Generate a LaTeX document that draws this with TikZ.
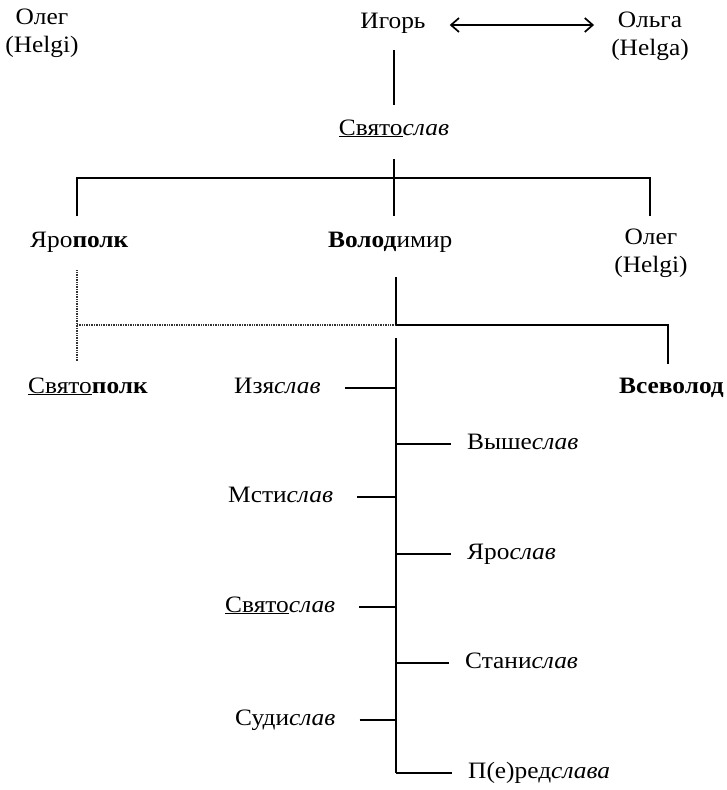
\documentclass[tikz,border=0pt]{standalone}
\usepackage{fontspec}
\setmainfont[FakeStretch=1.08]{Liberation Serif}
\usepackage{tikz}
\usetikzlibrary{arrows.meta}

\tikzset{
	person/.style={font=\fontsize{23.5}{28}\selectfont, inner sep=0pt},
	kin/.style={line width=1.9pt},
	trunkline/.style={line width=1.4pt},
	dotline/.style={line width=1.4pt, black!80, dash pattern=on 1pt off 0.7pt},
	wed/.style={line width=1.7pt, {Straight Barb[length=8pt,width=14pt]}-{Straight Barb[length=8pt,width=14pt]}}
}

\begin{document}
\begin{tikzpicture}[x=1pt, y=-1pt, every node/.style={person}]
\useasboundingbox (0,0) rectangle (726,790);

% parents and first son
\node[anchor=north, align=center] (olegA) at (42,9) {Олег\\(Helgi)};
\node[anchor=base] (igor) at (393,28) {Игорь};
\node[anchor=north, align=center] (olga) at (650,12) {Ольга\\(Helga)};
\node[anchor=base] (svyatA) at (394,135) {\underline{Свято}\textit{слав}};

\draw[wed, shorten <=24pt, shorten >=17pt] (igor.east |- 0,25) -- (olga.west |- 0,25);
\draw[kin, shorten <=17pt, shorten >=14pt] (igor.south -| svyatA) -- (svyatA);

% sons of Svyatoslav
\node[anchor=base west] (yaropolk) at (30,247) {Яро\textbf{полк}};
\node[anchor=base west] (volod) at (328,247) {\textbf{Волод}имир};
\node[anchor=north, align=center] (olegB) at (651,229) {Олег\\(Helgi)};

\coordinate (barL) at (77,178);
\coordinate (barR) at (650,178);
\draw[kin, shorten <=15pt, shorten >=13pt] (barL |- yaropolk.north) -- (barL) -- (barR) -- (barR |- olegB.north);
\draw[kin, shorten <=22pt, shorten >=15pt] (svyatA.south) -- (svyatA.south |- volod.north);

% grandsons
\node[anchor=base west] (svyatopolk) at (28,393) {\underline{Свято}\textbf{полк}};
\node[anchor=base east] (vsevolod) at (724,393) {\textbf{Всеволод}};
\node[anchor=base west] (izyaslav) at (234,393) {Изя\textit{слав}};
\node[anchor=base west] (vysheslav) at (467,449) {Выше\textit{слав}};
\node[anchor=base west] (mstislav) at (228,502) {Мсти\textit{слав}};
\node[anchor=base west] (yaroslav) at (467,559) {Яро\textit{слав}};
\node[anchor=base west] (svyatB) at (225,612) {\underline{Свято}\textit{слав}};
\node[anchor=base west] (stanislav) at (465,668) {Стани\textit{слав}};
\node[anchor=base west] (sudislav) at (235,725) {Суди\textit{слав}};
\node[anchor=base west] (predslava) at (468,778) {П(е)ред\textit{слава}};

\coordinate (forkB) at (396,325);
\coordinate (legV) at (668,325);
\draw[dotline, shorten <=18pt, shorten >=16pt] (barL |- yaropolk.south) -- (barL |- svyatopolk.north);
\draw[dotline] (forkB -| barL) -- (forkB);
\draw[kin, shorten >=13pt] (forkB) -- (legV) -- (legV |- vsevolod.north);
\draw[kin, shorten <=25pt] (forkB |- volod.south) -- (forkB);
\draw[trunkline, shorten <=13pt] (forkB) -- ([yshift=5pt]predslava.base west -| forkB);

\foreach \who in {izyaslav, mstislav, svyatB, sudislav}
	\draw[kin, shorten <=24pt] ([yshift=5pt]\who.base east) -- ([yshift=5pt]\who.base east -| forkB);
\foreach \who in {vysheslav, yaroslav, stanislav, predslava}
	\draw[kin, shorten >=16pt] ([yshift=5pt]\who.base west -| forkB) -- ([yshift=5pt]\who.base west);
\end{tikzpicture}
\end{document}
